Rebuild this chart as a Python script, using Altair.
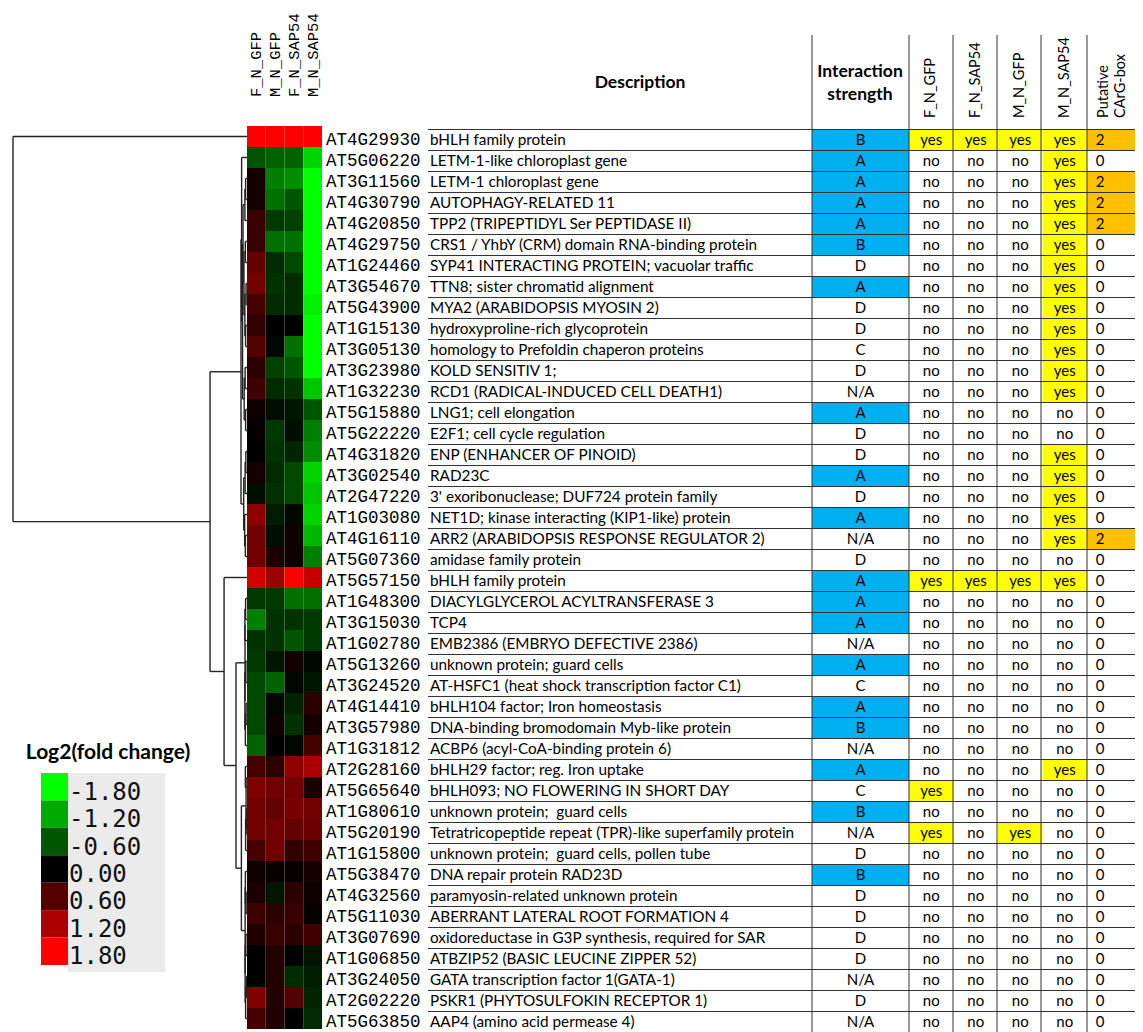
import altair as alt
import pandas as pd

# ---------------- data ----------------
samples = ["F_N_GFP", "M_N_GFP", "F_N_SAP54", "M_N_SAP54"]

gene_ids = ["AT4G29930", "AT5G06220", "AT3G11560", "AT4G30790", "AT4G20850", "AT4G29750",
            "AT1G24460", "AT3G54670", "AT5G43900", "AT1G15130", "AT3G05130", "AT3G23980",
            "AT1G32230", "AT5G15880", "AT5G22220", "AT4G31820", "AT3G02540", "AT2G47220",
            "AT1G03080", "AT4G16110", "AT5G07360", "AT5G57150", "AT1G48300", "AT3G15030",
            "AT1G02780", "AT5G13260", "AT3G24520", "AT4G14410", "AT3G57980", "AT1G31812",
            "AT2G28160", "AT5G65640", "AT1G80610", "AT5G20190", "AT1G15800", "AT5G38470",
            "AT4G32560", "AT5G11030", "AT3G07690", "AT1G06850", "AT3G24050", "AT2G02220",
            "AT5G63850"]

descriptions = [
    "bHLH family protein", "LETM-1-like chloroplast gene", "LETM-1 chloroplast gene",
    "AUTOPHAGY-RELATED 11", "\u00a0TPP2 (TRIPEPTIDYL Ser PEPTIDASE II)",
    "CRS1 / YhbY (CRM) domain RNA-binding protein", "SYP41 INTERACTING PROTEIN; vacuolar traffic",
    "\u00a0TTN8; sister chromatid alignment", "\u00a0MYA2 (ARABIDOPSIS MYOSIN 2)",
    "hydroxyproline-rich glycoprotein", "homology to Prefoldin chaperon proteins",
    "KOLD SENSITIV 1;", "\u00a0RCD1 (RADICAL-INDUCED CELL DEATH1)", "LNG1; cell elongation",
    "E2F1; cell cycle regulation", "\u00a0ENP (ENHANCER OF PINOID)", "RAD23C",
    "3' exoribonuclease; DUF724 protein family", "NET1D; kinase interacting (KIP1-like) protein",
    "\u00a0ARR2 (ARABIDOPSIS RESPONSE REGULATOR 2)", "amidase family protein", "bHLH family protein",
    "DIACYLGLYCEROL ACYLTRANSFERASE 3", "TCP4", "\u00a0EMB2386 (EMBRYO DEFECTIVE 2386)",
    "\u00a0unknown protein; guard cells", "\u00a0AT-HSFC1 (heat shock transcription factor C1)",
    "bHLH104 factor; Iron homeostasis", "DNA-binding bromodomain Myb-like protein",
    "\u00a0ACBP6 (acyl-CoA-binding protein 6)", "\u00a0bHLH29 factor; reg. Iron uptake",
    "\u00a0bHLH093; NO FLOWERING IN SHORT DAY", "unknown protein;\u00a0 guard cells",
    "Tetratricopeptide repeat (TPR)-like superfamily protein", "unknown protein;\u00a0 guard cells, pollen tube",
    "DNA repair protein RAD23D", "paramyosin-related unknown protein", "ABERRANT LATERAL ROOT FORMATION 4",
    "oxidoreductase in G3P synthesis, required for SAR", "ATBZIP52 (BASIC LEUCINE ZIPPER 52)",
    "GATA transcription factor 1(GATA-1)", "PSKR1 (PHYTOSULFOKIN RECEPTOR 1)",
    "\u00a0AAP4 (amino acid permease 4)"]

interaction = ["B", "A", "A", "A", "A", "B", "D", "A", "D", "D", "C", "D", "N/A", "A", "D", "D",
               "A", "D", "A", "N/A", "D", "A", "A", "A", "N/A", "A", "C", "A", "B", "N/A", "A",
               "C", "B", "N/A", "D", "B", "D", "D", "D", "D", "N/A", "D", "N/A"]

yes_F_N_GFP = [1, 22, 32, 34]
yes_F_N_SAP54 = [1, 22]
yes_M_N_GFP = [1, 22, 34]
yes_M_N_SAP54 = [1, 2, 3, 4, 5, 6, 7, 8, 9, 10, 11, 12, 13, 16, 17, 18, 19, 20, 22, 31]
carg_two = [1, 3, 4, 5, 20]

fc_F_N_GFP = [1.8, -0.6, 0.15, 0.15, 0.4, 0.4, 0.7, 0.8, 0.5, 0.35, 0.6, 0.3, 0.45, 0.1, 0.05,
              0.0, 0.15, -0.1, 1.0, 0.8, 0.8, 1.5, -0.4, -0.9, -0.35, -0.4, -0.5, -0.5, -0.5,
              -0.7, 0.5, 0.9, 0.8, 0.8, 0.5, 0.1, 0.2, 0.45, 0.25, 0.0, 0.0, 0.9, 0.5]
fc_M_N_GFP = [1.8, -0.7, -0.9, -0.8, -0.4, -0.8, -0.3, -0.35, -0.3, 0.0, -0.05, -0.45, -0.3,
              -0.1, -0.4, -0.35, -0.3, -0.35, -0.2, -0.1, 0.2, 1.1, -0.4, -0.35, -0.35, -0.15,
              -0.7, -0.05, 0.1, 0.0, 0.3, 0.8, 0.7, 0.8, 0.8, 0.05, -0.15, 0.3, 0.4, 0.25, 0.25,
              0.25, 0.25]
fc_F_N_SAP54 = [1.8, -0.7, -1.0, -0.6, -0.45, -0.8, -0.5, -0.3, -0.3, 0.0, -0.8, -0.6, -0.35,
                -0.15, -0.1, -0.25, -0.5, -0.5, -0.05, 0.1, 0.1, 1.8, -0.8, -0.35, -0.6, 0.15,
                -0.05, -0.25, -0.35, -0.05, 1.0, 0.8, 0.85, 0.7, 0.35, 0.05, 0.3, 0.4, 0.3, 0.0,
                -0.3, 0.6, 0.0]
fc_M_N_SAP54 = [1.8, -1.5, -1.9, -1.9, -1.9, -1.9, -1.9, -1.9, -1.7, -1.9, -1.9, -1.9, -1.4,
                -0.6, -0.9, -1.0, -1.5, -1.4, -1.5, -1.3, -0.9, 1.4, -0.8, -0.4, -0.4, -0.05,
                -0.15, 0.3, 0.15, 0.5, 1.2, 0.2, 0.8, 0.75, 0.45, 0.15, 0.1, 0.05, 0.45, -0.15,
                -0.2, -0.25, -0.3]

# dendrogram: [left, right, height]; leaves are row indices
dendro_tree = [0, [
    [[1, [[[[2, 3, 0.006], 4, 0.009], [[5, 6, 0.007], [[7, 8, 0.004], [9, 10, 0.006], 0.009], 0.013], 0.017],
          [[11, 12, 0.008], [13, 14, 0.006], 0.012], 0.019], 0.023],
     [[[15, 16, 0.005], 17, 0.008], [18, [19, 20, 0.007], 0.010], 0.014], 0.0256],
    [21, [[[[22, 23, 0.006], 24, 0.009], [[25, 26, 0.005], [[27, 28, 0.004], 29, 0.007], 0.009], 0.0085],
          [[[30, 31, 0.007], [[32, 33, 0.003], 34, 0.006], 0.004],
           [[35, [36, 37, 0.004], 0.007], [[38, 39, 0.005], [[40, 41, 0.003], 42, 0.006], 0.008], 0.008],
           0.024], 0.047], 0.098],
    0.158], 1.0]

legend_values = [-1.8, -1.2, -0.6, 0.0, 0.6, 1.2, 1.8]
legend_labels = ["-1.80", "-1.20", "-0.60", "0.00", "0.60", "1.20", "1.80"]

# ---------------- layout (chart px) ----------------
W, H = 1127, 1024
N = len(gene_ids)
HEAT_X = [239, 314]
HEAT_Y = [118, 1021]
TAB_Y = [121.5, 1024.5]
DEND_X = [239, 5]
YES_X = [901, 1079]
COL_EDGES = [804, 901, 945, 989, 1033, 1079, 1133]
ROWLINE_X = (420, 1133)
LINE = "#333333"
SANS = "Lato"
MONO = "Liberation Mono"

heat_color = alt.Scale(domain=[-1.8, 0, 1.8], range=["#00ff00", "#000000", "#ff0000"],
                       clamp=True, interpolate="rgb")
heat_y = alt.Scale(domain=[-0.5, N - 0.5], range=HEAT_Y, nice=False, zero=False)
tab_y = alt.Scale(domain=[-0.5, N - 0.5], range=TAB_Y, nice=False, zero=False)
heat_x = alt.Scale(domain=samples, range=HEAT_X, paddingInner=0, paddingOuter=0)
yes_cols = ["F_N_GFP", "F_N_SAP54", "M_N_GFP", "M_N_SAP54"]
yes_x = alt.Scale(domain=yes_cols, range=YES_X, paddingInner=0, paddingOuter=0)

# ---------------- tables ----------------
rows = list(range(N))
heat_df = pd.DataFrame([
    {"row": i, "sample": s, "fc": v, "y0": i - 0.5, "y1": i + 0.5}
    for s, col in zip(samples, [fc_F_N_GFP, fc_M_N_GFP, fc_F_N_SAP54, fc_M_N_SAP54])
    for i, v in enumerate(col)])

segs = []


def build(node):
    if isinstance(node, int):
        return float(node), 0.0
    l, r, h = node
    yl, dl = build(l)
    yr, dr = build(r)
    segs.append({"d1": h, "d2": h, "r1": yl, "r2": yr})
    segs.append({"d1": dl, "d2": h, "r1": yl, "r2": yl})
    segs.append({"d1": dr, "d2": h, "r1": yr, "r2": yr})
    return (yl + yr) / 2, h


build(dendro_tree)
dend_df = pd.DataFrame(segs)

table_df = pd.DataFrame({"row": rows, "gene": gene_ids, "desc": descriptions,
                         "inter": interaction,
                         "carg": ["2" if (i + 1) in carg_two else "0" for i in rows]})
table_df["y0"] = table_df["row"] - 0.5
table_df["y1"] = table_df["row"] + 0.5

yes_lists = {"F_N_GFP": yes_F_N_GFP, "F_N_SAP54": yes_F_N_SAP54,
             "M_N_GFP": yes_M_N_GFP, "M_N_SAP54": yes_M_N_SAP54}
yes_df = pd.DataFrame([
    {"row": i, "col": c, "val": "yes" if (i + 1) in yes_lists[c] else "no", "y0": i - 0.5, "y1": i + 0.5}
    for c in yes_cols for i in rows])

lines_df = pd.DataFrame({"b": [i - 0.5 for i in range(N + 1)]})
vlines_df = pd.DataFrame({"xv": COL_EDGES})

# ---------------- layers ----------------
dend = alt.Chart(dend_df).mark_rule(color="#222222", strokeWidth=1.4).encode(
    x=alt.X("d1:Q", scale=alt.Scale(domain=[0, 1], range=DEND_X, nice=False, zero=False), axis=None),
    x2="d2:Q",
    y=alt.Y("r1:Q", scale=heat_y, axis=None),
    y2="r2:Q")

heat = alt.Chart(heat_df).mark_rect(stroke=None).encode(
    x=alt.X("sample:N", scale=heat_x, axis=None),
    y=alt.Y("y0:Q", scale=heat_y, axis=None),
    y2="y1:Q",
    color=alt.Color("fc:Q", scale=heat_color, legend=None))

heat_head = alt.Chart(pd.DataFrame({"sample": samples})).mark_text(
    angle=270, align="left", baseline="middle", font=MONO, fontSize=15.5, color="black").encode(
    x=alt.X("sample:N", scale=heat_x, axis=None),
    y=alt.value(89),
    text="sample:N")

gene_txt = alt.Chart(table_df).mark_text(
    align="left", baseline="middle", font=MONO, fontSize=17.5, color="black").encode(
    x=alt.value(318), y=alt.Y("row:Q", scale=tab_y, axis=None), text="gene:N")

desc_txt = alt.Chart(table_df).mark_text(
    align="left", baseline="middle", font=SANS, fontSize=15.3, color="black").encode(
    x=alt.value(422), y=alt.Y("row:Q", scale=tab_y, axis=None), text="desc:N")

inter_bg = alt.Chart(table_df).transform_filter(
    "datum.inter == 'A' || datum.inter == 'B'").mark_rect(color="#00B0F0").encode(
    x=alt.value(COL_EDGES[0]), x2=alt.value(COL_EDGES[1]),
    y=alt.Y("y0:Q", scale=tab_y, axis=None), y2="y1:Q")

inter_txt = alt.Chart(table_df).mark_text(
    align="center", baseline="middle", font=SANS, fontSize=15, color="black").encode(
    x=alt.value((COL_EDGES[0] + COL_EDGES[1]) / 2), y=alt.Y("row:Q", scale=tab_y, axis=None),
    text="inter:N")

yes_bg = alt.Chart(yes_df).transform_filter("datum.val == 'yes'").mark_rect(color="#FFFF00").encode(
    x=alt.X("col:N", scale=yes_x, axis=None),
    y=alt.Y("y0:Q", scale=tab_y, axis=None), y2="y1:Q")

yes_txt = alt.Chart(yes_df).mark_text(
    align="center", baseline="middle", font=SANS, fontSize=15, color="black").encode(
    x=alt.X("col:N", scale=yes_x, axis=None),
    y=alt.Y("row:Q", scale=tab_y, axis=None), text="val:N")

carg_bg = alt.Chart(table_df).transform_filter("datum.carg == '2'").mark_rect(color="#FFC000").encode(
    x=alt.value(COL_EDGES[5]), x2=alt.value(COL_EDGES[6]),
    y=alt.Y("y0:Q", scale=tab_y, axis=None), y2="y1:Q")

carg_txt = alt.Chart(table_df).mark_text(
    align="center", baseline="middle", font=SANS, fontSize=15, color="black").encode(
    x=alt.value(1092), y=alt.Y("row:Q", scale=tab_y, axis=None),
    text="carg:N")

row_lines = alt.Chart(lines_df).mark_rule(color=LINE, strokeWidth=1).encode(
    x=alt.value(ROWLINE_X[0]), x2=alt.value(ROWLINE_X[1]),
    y=alt.Y("b:Q", scale=tab_y, axis=None))

col_lines = alt.Chart(vlines_df).mark_rule(color=LINE, strokeWidth=1).encode(
    x=alt.X("xv:Q", scale=None, axis=None), y=alt.value(27), y2=alt.value(H))

hdr_bold = alt.Chart(pd.DataFrame({
    "t": ["Description", "Interaction", "strength"],
    "px": [632, 852, 852], "py": [75, 64, 87]})).mark_text(
    align="center", baseline="middle", font=SANS, fontSize=17.5, fontWeight="bold", color="black").encode(
    x=alt.X("px:Q", scale=None, axis=None), y=alt.Y("py:Q", scale=None, axis=None), text="t:N")

hdr_rot = alt.Chart(pd.DataFrame({"col": yes_cols})).mark_text(
    angle=270, align="left", baseline="middle", font=SANS, fontSize=14.5, color="black").encode(
    x=alt.X("col:N", scale=yes_x, axis=None), y=alt.value(110), text="col:N")

hdr_carg = alt.Chart(pd.DataFrame({"t": ["Putative", "CArG-box"], "px": [1096, 1113]})).mark_text(
    angle=270, align="left", baseline="middle", font=SANS, fontSize=14.5, color="black").encode(
    x=alt.X("px:Q", scale=None, axis=None), y=alt.value(110), text="t:N")

# legend
leg_df = pd.DataFrame({"v": legend_values, "lab": legend_labels})
leg_y = alt.Scale(domain=legend_labels, range=[765, 957], paddingInner=0, paddingOuter=0)
leg_bg = alt.Chart(pd.DataFrame({"k": [0]})).mark_rect(color="#EBEBEB").encode(
    x=alt.value(60), x2=alt.value(157), y=alt.value(765), y2=alt.value(964))
leg_sw = alt.Chart(leg_df).mark_rect().encode(
    x=alt.value(33), x2=alt.value(60),
    y=alt.Y("lab:N", scale=leg_y, axis=None, sort=legend_labels),
    color=alt.Color("v:Q", scale=heat_color, legend=None))
leg_txt = alt.Chart(leg_df).mark_text(
    align="left", baseline="middle", font="DejaVu Sans Mono", fontSize=24, dy=6, dx=1, color="#111111").encode(
    x=alt.value(60), y=alt.Y("lab:N", scale=leg_y, axis=None, sort=legend_labels), text="lab:N")
leg_title = alt.Chart(pd.DataFrame({"t": ["Log2(fold change)"]})).mark_text(
    align="center", baseline="middle", font=SANS, fontSize=21, fontWeight="bold", color="black").encode(
    x=alt.value(100), y=alt.value(745), text="t:N")

chart = alt.layer(
    inter_bg, yes_bg, carg_bg, row_lines, col_lines,
    dend, heat, heat_head, gene_txt, desc_txt, inter_txt, yes_txt, carg_txt,
    hdr_bold, hdr_rot, hdr_carg,
    leg_bg, leg_sw, leg_txt, leg_title
).resolve_scale(x="independent", y="independent", color="independent").properties(
    width=W, height=H, autosize=alt.AutoSizeParams(type="none"), padding=0
).configure_view(stroke=None)

chart.save("out.html", embed_options={"renderer": "svg", "actions": False})
